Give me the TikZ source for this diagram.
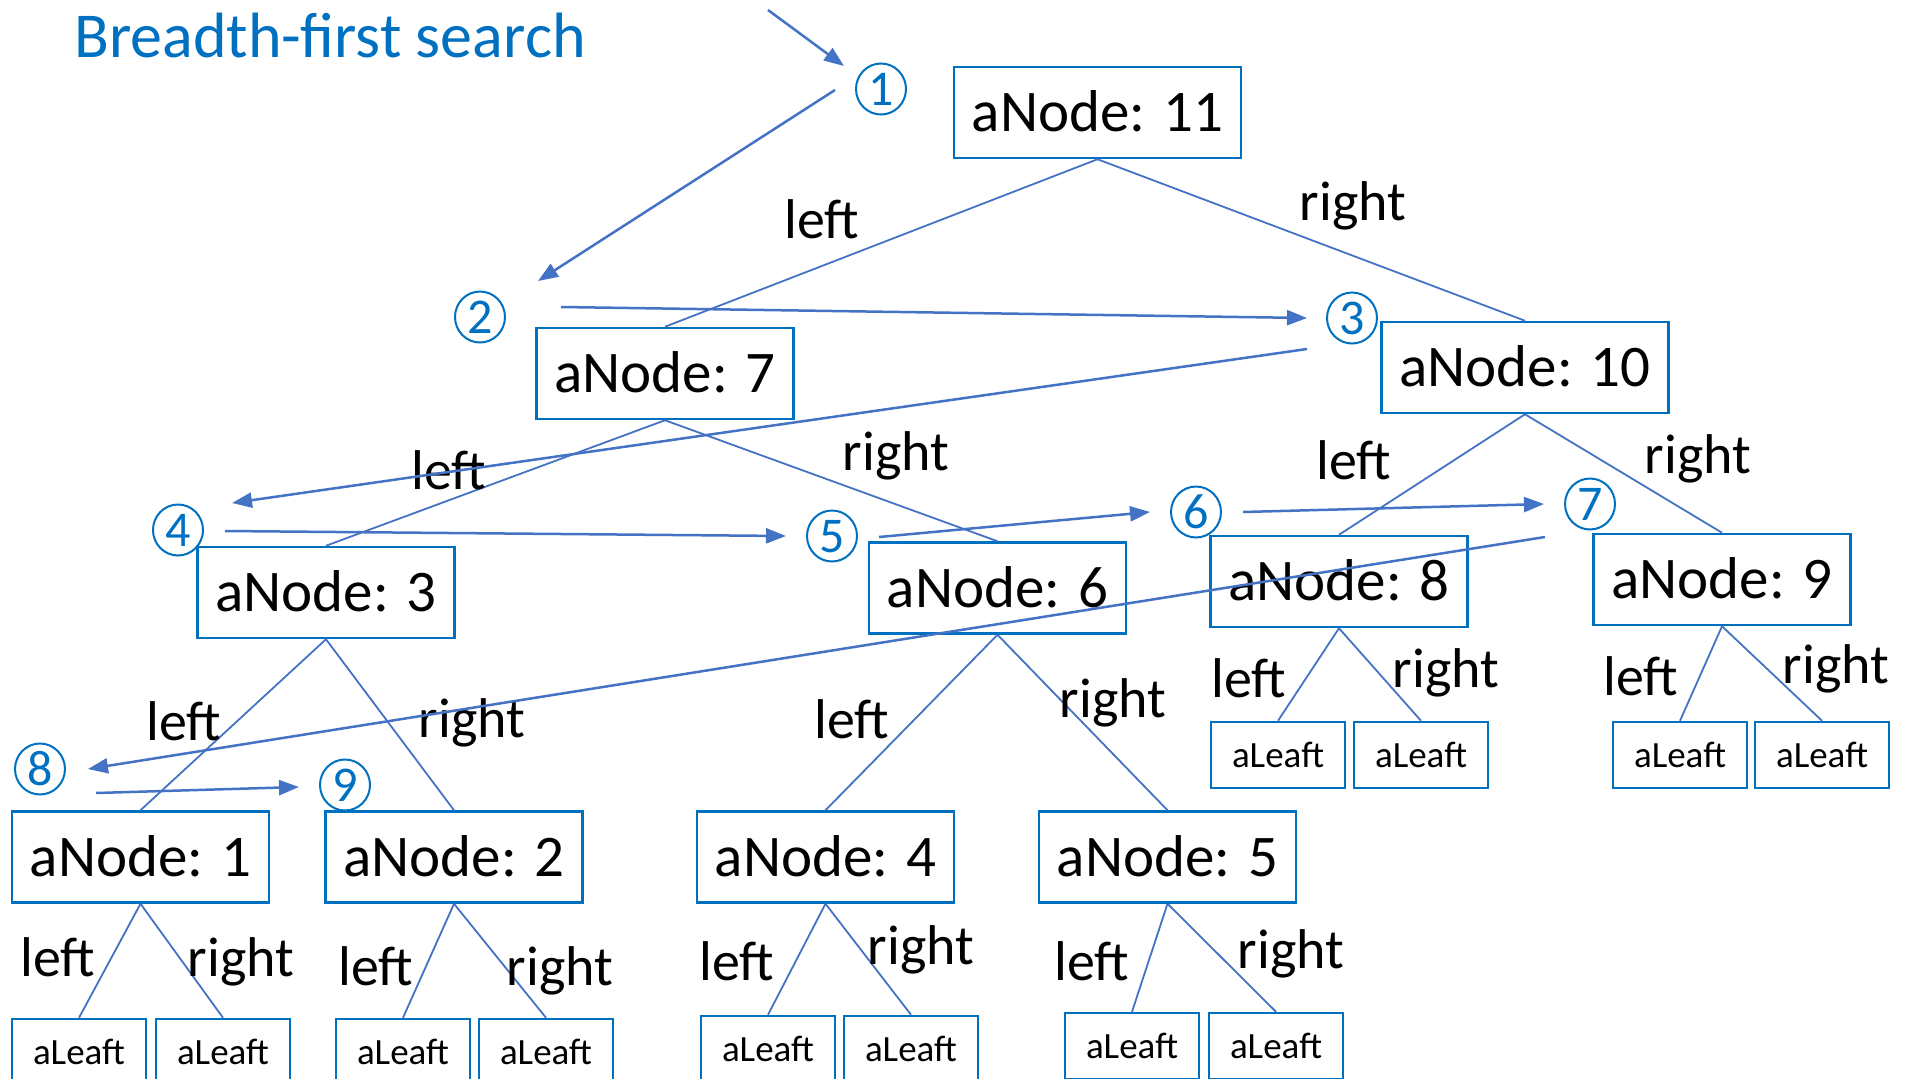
\documentclass[tikz,border=0pt]{standalone}
\usepackage{fontspec}
\setmainfont{Carlito}
\usetikzlibrary{arrows.meta,shapes.geometric}
\definecolor{boxblue}{RGB}{0,112,192}
\definecolor{edgeblue}{RGB}{68,114,196}
\begin{document}
\begin{tikzpicture}[x=1pt,y=-1pt,
 anode/.style={draw=boxblue, line width=2.5pt, minimum width=257pt, minimum height=91pt, inner sep=0pt, font=\fontsize{59}{60}\selectfont, text height=38pt, text depth=0pt},
 wide/.style={minimum width=287pt},
 leaf/.style={draw=boxblue, line width=2.5pt, minimum width=134pt, minimum height=66pt, inner sep=0pt, font=\fontsize{37}{40}\selectfont, text height=24pt, text depth=0pt},
 num/.style={ellipse, draw=boxblue, text=boxblue, line width=2pt, minimum width=50pt, minimum height=51pt, inner sep=0pt, font=\fontsize{50}{50}\selectfont, text height=32pt, text depth=0pt},
 lbl/.style={anchor=base, font=\fontsize{56}{60}\selectfont, inner sep=0pt},
 edge/.style={draw=edgeblue, line width=1.8pt},
 arr/.style={draw=edgeblue, line width=2.5pt, -{Triangle[length=20pt,width=15pt]}}
]
\useasboundingbox (0,0) rectangle (1912,1079);
\clip (0,0) rectangle (1912,1079);
\fill[white] (0,0) rectangle (1912,1079);

\node[anchor=base west, text=boxblue, font=\fontsize{64}{66}\selectfont, inner sep=0pt] (title) at (74,57) {Breadth-first search};

% inner nodes
\node[anode, wide] (n11) at (1097.5,112.5) {aNode: 11};
\node[anode] (n7) at (665,373.5) {aNode: 7};
\node[anode, wide] (n10) at (1525,367.5) {aNode: 10};
\node[anode] (n3) at (326,592.5) {aNode: 3};
\node[anode] (n6) at (997.5,588) {aNode: 6};
\node[anode] (n8) at (1339,581.5) {aNode: 8};
\node[anode] (n9) at (1722,579.5) {aNode: 9};
\node[anode] (n1) at (140.5,857) {aNode: 1};
\node[anode] (n2) at (454,857) {aNode: 2};
\node[anode] (n4) at (825.5,857) {aNode: 4};
\node[anode] (n5) at (1167.5,857) {aNode: 5};

% leaves
\node[leaf] (l1a) at (79,1052) {aLeaft};
\node[leaf] (l1b) at (223,1052) {aLeaft};
\node[leaf] (l2a) at (403,1052) {aLeaft};
\node[leaf] (l2b) at (546,1052) {aLeaft};
\node[leaf] (l4a) at (768,1049) {aLeaft};
\node[leaf] (l4b) at (911,1049) {aLeaft};
\node[leaf] (l5a) at (1132,1046) {aLeaft};
\node[leaf] (l5b) at (1276,1046) {aLeaft};
\node[leaf] (l8a) at (1278,755) {aLeaft};
\node[leaf] (l8b) at (1421,755) {aLeaft};
\node[leaf] (l9a) at (1680,755) {aLeaft};
\node[leaf] (l9b) at (1822,755) {aLeaft};

% tree edges
\draw[edge] (n11.south) -- (n7.north);
\draw[edge] (n11.south) -- (n10.north);
\draw[edge] (n7.south) -- (n3.north);
\draw[edge] (n7.south) -- (n6.north);
\draw[edge] (n10.south) -- (n8.north);
\draw[edge] (n10.south) -- (n9.north);
\draw[edge] (n3.south) -- (n1.north);
\draw[edge] (n3.south) -- (n2.north);
\draw[edge] (n6.south) -- (n4.north);
\draw[edge] (n6.south) -- (n5.north);
\draw[edge] (n1.south) -- (l1a.north);
\draw[edge] (n1.south) -- (l1b.north);
\draw[edge] (n2.south) -- (l2a.north);
\draw[edge] (n2.south) -- (l2b.north);
\draw[edge] (n4.south) -- (l4a.north);
\draw[edge] (n4.south) -- (l4b.north);
\draw[edge] (n5.south) -- (l5a.north);
\draw[edge] (n5.south) -- (l5b.north);
\draw[edge] (n8.south) -- (l8a.north);
\draw[edge] (n8.south) -- (l8b.north);
\draw[edge] (n9.south) -- (l9a.north);
\draw[edge] (n9.south) -- (l9b.north);

% edge labels
\node[lbl] (t11l) at (822,238) {left};
\node[lbl] (t11r) at (1353,220) {right};
\node[lbl] (t7l) at (449,489) {left};
\node[lbl] (t7r) at (896,470) {right};
\node[lbl] (t10l) at (1354,479) {left};
\node[lbl] (t10r) at (1698,473) {right};
\node[lbl] (t3l) at (184,740) {left};
\node[lbl] (t3r) at (472,737) {right};
\node[lbl] (t6l) at (852,738) {left};
\node[lbl] (t6r) at (1113,717) {right};
\node[lbl] (t8l) at (1249,697) {left};
\node[lbl] (t8r) at (1446,687) {right};
\node[lbl] (t9l) at (1641,695) {left};
\node[lbl] (t9r) at (1836,683) {right};
\node[lbl] (t1l) at (58,976) {left};
\node[lbl] (t1r) at (241,976) {right};
\node[lbl] (t2l) at (376,985) {left};
\node[lbl] (t2r) at (560,985) {right};
\node[lbl] (t4l) at (737,980) {left};
\node[lbl] (t4r) at (921,964) {right};
\node[lbl] (t5l) at (1092,980) {left};
\node[lbl] (t5r) at (1291,968) {right};

% visiting order markers
\node[num] (c1) at (881,89) {1};
\node[num] (c2) at (480,317) {2};
\node[num] (c3) at (1352,318) {3};
\node[num] (c4) at (178,530) {4};
\node[num] (c5) at (832,536) {5};
\node[num] (c6) at (1196,512) {6};
\node[num] (c7) at (1590,504) {7};
\node[num] (c8) at (40,769) {8};
\node[num] (c9) at (345,785) {9};

% arrow end points
\coordinate (s0) at (768,10);   \coordinate (e0) at (844,66);
\coordinate (s1) at (835,90);   \coordinate (e1) at (538,281);
\coordinate (s2) at (561,307);  \coordinate (e2) at (1307,318);
\coordinate (s3) at (1307,349); \coordinate (e3) at (232,503);
\coordinate (s4) at (225,531);  \coordinate (e4) at (786,536);
\coordinate (s5) at (879,537);  \coordinate (e5) at (1150,512);
\coordinate (s6) at (1243,512); \coordinate (e6) at (1544,504);
\coordinate (s7) at (1545,537); \coordinate (e7) at (88,769);
\coordinate (s8) at (96,793);   \coordinate (e8) at (299,787);

\draw[arr] (s0) -- (e0);
\draw[arr] (s1) -- (e1);
\draw[arr] (s2) -- (e2);
\draw[arr] (s3) -- (e3);
\draw[arr] (s4) -- (e4);
\draw[arr] (s5) -- (e5);
\draw[arr] (s6) -- (e6);
\draw[arr] (s7) -- (e7);
\draw[arr] (s8) -- (e8);
\end{tikzpicture}
\end{document}
